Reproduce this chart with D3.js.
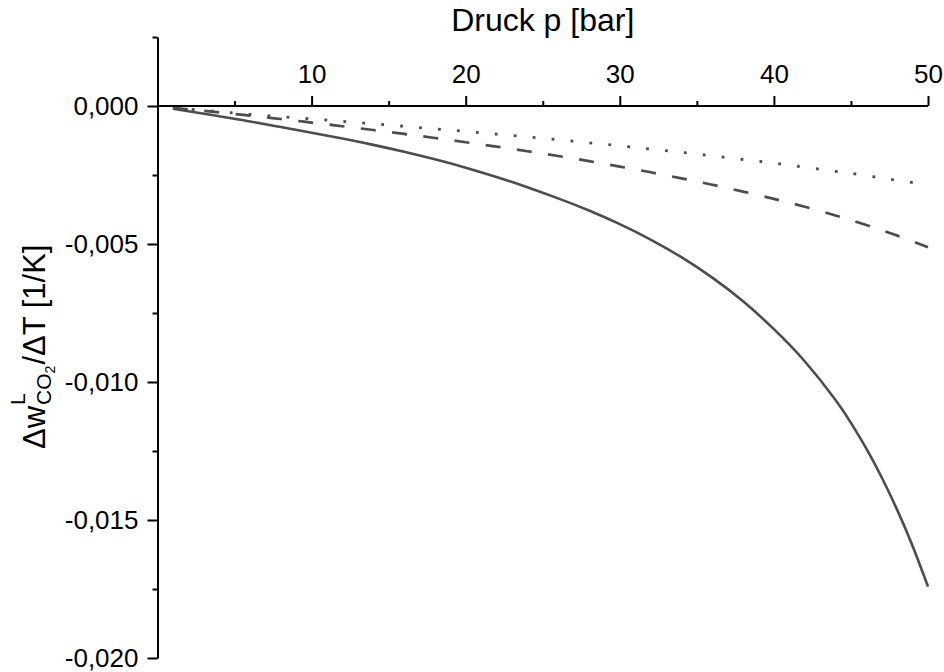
<!DOCTYPE html>
<html>
<head>
<meta charset="utf-8">
<script src="https://cdn.jsdelivr.net/npm/d3@7"></script>
<style>
  html, body { margin: 0; padding: 0; background: #fff; }
  svg { display: block; font-family: Arial, "Liberation Sans", sans-serif; }
</style>
</head>
<body>
<svg id="chart" width="944" height="672"></svg>
<script>
// ---- data ----
const pressure = [1, 2, 4, 6, 8, 10, 12, 14, 16, 18, 20, 22, 24, 26, 28, 30, 32, 34, 36, 38, 40, 42, 44, 45, 46, 47, 48, 49, 50];
const solidValues = [-0.00010, -0.00019, -0.00037, -0.00056, -0.000762, -0.00097, -0.001179, -0.001408, -0.001658, -0.001932, -0.002233, -0.002572, -0.002944, -0.003348, -0.003787, -0.004280, -0.004840, -0.005479, -0.006219, -0.007076, -0.008083, -0.009248, -0.010649, -0.011480, -0.012412, -0.013459, -0.014634, -0.015945, -0.017414];
const dashedValues = [-0.00008, -0.00012, -0.00023, -0.00035, -0.000472, -0.00060, -0.000734, -0.000870, -0.001012, -0.001159, -0.001313, -0.001474, -0.001639, -0.001812, -0.001997, -0.002194, -0.002402, -0.002621, -0.002853, -0.003101, -0.003365, -0.003650, -0.003966, -0.004136, -0.004314, -0.004501, -0.004697, -0.004902, -0.005116];
const dottedValues = [-0.00006, -0.00011, -0.000204, -0.000302, -0.000386, -0.00047, -0.000558, -0.000646, -0.000736, -0.000828, -0.00092, -0.00102, -0.00112, -0.001224, -0.001332, -0.00144, -0.00156, -0.00168, -0.001806, -0.001938, -0.00207, -0.002218, -0.002366, -0.00244, -0.002524, -0.002608, -0.002692, -0.002776, -0.00286];
const xMajorTicks = [10, 20, 30, 40, 50];
const xMinorTicks = [5, 15, 25, 35, 45];
const yMajorTicks = [0, -0.005, -0.010, -0.015, -0.020];
const yMinorTicks = [0.0025, -0.0025, -0.0075, -0.0125, -0.0175];
const xTitle = "Druck p [bar]";

// ---- layout ----
const svg = d3.select("#chart");
const plotLeft = 157.5, plotRight = 928, plotTop = 37, plotBottom = 658;
const x = d3.scaleLinear().domain([0, 50]).range([plotLeft, plotRight]);
const y = d3.scaleLinear().domain([-0.020, 0.0025]).range([plotBottom, plotTop]);

const locale = d3.formatLocale({decimal: ",", thousands: ".", grouping: [3], currency: ["", ""], minus: "-"});
const yFmt = locale.format(".3f");

const lineColor = "#4d4d4d";
const series = [
  {values: solidValues, dash: null, width: 2.6},
  {values: dashedValues, dash: "15,16.5", width: 2.7},
  {values: dottedValues, dash: "2.8,16.2", width: 2.8}
];
const line = d3.line().curve(d3.curveNatural);
series.forEach(s => {
  const pts = pressure.map((p, i) => [x(p), y(s.values[i])]);
  svg.append("path")
    .attr("d", line(pts))
    .attr("fill", "none")
    .attr("stroke", lineColor)
    .attr("stroke-width", s.width)
    .attr("stroke-dasharray", s.dash);
});

// ---- axes ----
function styleAxis(g) {
  g.selectAll("path.domain").attr("stroke", "#000").attr("stroke-width", 2);
  g.selectAll(".tick line").attr("stroke", "#000").attr("stroke-width", 2);
}

// x axis (top, at y = 0)
const xAxisG = svg.append("g").attr("transform", `translate(0,${y(0)})`)
  .call(d3.axisTop(x).tickValues(xMajorTicks).tickSize(10).tickSizeOuter(0).tickPadding(13).tickFormat(d3.format("d")));
xAxisG.call(g => g.select("path.domain").attr("d", `M${x(0)},0H${x(50)}`));
xAxisG.selectAll(".tick text").attr("font-size", 26).attr("fill", "#000")
  .attr("font-family", "Arial, 'Liberation Sans', sans-serif");
styleAxis(xAxisG);
const xMinorG = svg.append("g").attr("transform", `translate(0,${y(0)})`)
  .call(d3.axisTop(x).tickValues(xMinorTicks).tickSize(5).tickFormat(""));
xMinorG.select("path.domain").remove();
styleAxis(xMinorG);

// y axis (left, at x = 0)
const yAxisG = svg.append("g").attr("transform", `translate(${x(0)},0)`)
  .call(d3.axisLeft(y).tickValues(yMajorTicks).tickSize(10).tickSizeOuter(0).tickPadding(9).tickFormat(yFmt));
yAxisG.selectAll(".tick text").attr("font-size", 26).attr("fill", "#000")
  .attr("font-family", "Arial, 'Liberation Sans', sans-serif");
styleAxis(yAxisG);
const yMinorG = svg.append("g").attr("transform", `translate(${x(0)},0)`)
  .call(d3.axisLeft(y).tickValues(yMinorTicks).tickSize(5).tickFormat(""));
yMinorG.select("path.domain").remove();
styleAxis(yMinorG);

// ---- titles ----
svg.append("text")
  .attr("x", (plotLeft + plotRight) / 2)
  .attr("y", 31)
  .attr("text-anchor", "middle")
  .attr("font-size", 32)
  .attr("fill", "#000")
  .text(xTitle);

// y title with super/subscripts
const clip = svg.append("clipPath").attr("id", "ytclip");
clip.append("rect").attr("x", 10).attr("y", 0).attr("width", 200).attr("height", 672);
const yt = svg.append("g").attr("clip-path", "url(#ytclip)")
  .append("g").attr("transform", "translate(45,449) rotate(-90)");
const fMain = 31, fSub = 21, fSub2 = 14;
const t1 = yt.append("text").attr("x", 0).attr("y", 0).attr("font-size", fMain).text("\u0394w");
const w1 = t1.node().getComputedTextLength();
yt.append("text").attr("x", w1 + 1).attr("y", -20).attr("font-size", fSub).text("L");
const t2 = yt.append("text").attr("x", w1 + 1).attr("y", 6).attr("font-size", fSub).text("CO");
const w2 = t2.node().getComputedTextLength();
const t3 = yt.append("text").attr("x", w1 + 1 + w2).attr("y", 10).attr("font-size", fSub2).text("2");
const w3 = t3.node().getComputedTextLength();
yt.append("text").attr("x", w1 + 1 + w2 + w3 + 1).attr("y", 0).attr("font-size", fMain).text("/\u0394T [1/K]");
</script>
</body>
</html>
